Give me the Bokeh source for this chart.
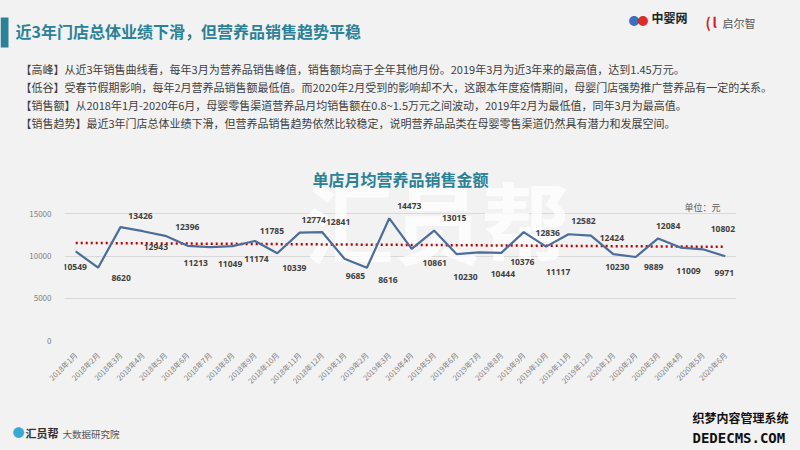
import numpy as np
from bokeh.plotting import figure
from bokeh.layouts import column
from bokeh.models import (Label, FactorRange, Range1d, FixedTicker, ColumnDataSource,
                          GlobalInlineStyleSheet)
from bokeh.embed import file_html
from bokeh.resources import INLINE
from bokeh.core.properties import value

# ---------------- data ----------------
months = ["2018年1月", "2018年2月", "2018年3月", "2018年4月", "2018年5月", "2018年6月",
          "2018年7月", "2018年8月", "2018年9月", "2018年10月", "2018年11月", "2018年12月",
          "2019年1月", "2019年2月", "2019年3月", "2019年4月", "2019年5月", "2019年6月",
          "2019年7月", "2019年8月", "2019年9月", "2019年10月", "2019年11月", "2019年12月",
          "2020年1月", "2020年2月", "2020年3月", "2020年4月", "2020年5月", "2020年6月"]
sales = [10549, 8620, 13426, 12943, 12396, 11213, 11049, 11174, 11785, 10339, 12774, 12841,
         9685, 8616, 14473, 10861, 13015, 10230, 10444, 10376, 12836, 11117, 12582, 12424,
         10230, 9889, 12084, 11009, 10802, 9971]
y_ticks = [0, 5000, 10000, 15000]

title_text = "近3年门店总体业绩下滑，但营养品销售趋势平稳"
chart_title = "单店月均营养品销售金额"
unit_text = "单位：元"
paragraphs = [
    "【高峰】从近3年销售曲线看，每年3月为营养品销售峰值，销售额均高于全年其他月份。2019年3月为近3年来的最高值，达到1.45万元。",
    "【低谷】受春节假期影响，每年2月营养品销售额最低值。而2020年2月受到的影响却不大，这跟本年度疫情期间，母婴门店强势推广营养品有一定的关系。",
    "【销售额】从2018年1月-2020年6月，母婴零售渠道营养品月均销售额在0.8~1.5万元之间波动，2019年2月为最低值，同年3月为最高值。",
    "【销售趋势】最近3年门店总体业绩下滑，但营养品销售趋势依然比较稳定，说明营养品品类在母婴零售渠道仍然具有潜力和发展空间。",
]

# label placement (screen px offsets from point; +y is downward)
label_dx = [-1, 23, 20, 13, 22, 8, 20, 24, 17, 17, 14, 16, 11, 21, 20, 23, 20, 9, 24, 21, 24, 12, 15, 21, 4, 18, 10, 8, 20, -1]
label_dy = [16, 10, -11, 16, -9, 17, 17, 13, -10, 15, -13, -10, 17, 12, -12, 14, -13, 23, 22, 9, 1, 25, -13, 2, 13, 10, -12, 23, -20, 17]

# ---------------- styling constants ----------------
W = 800
HEAD_H, CHART_H, FOOT_H = 150, 260, 40
BG = "#f2f2f2"
TEAL = "#2b8197"
CJK = "Noto Sans CJK SC"


def no_align(f):
    if "frame_align" in f.properties():
        f.frame_align = False
    return f


def plain_fig(h):
    f = figure(width=W, height=h, output_backend="svg", toolbar_location=None,
               x_range=Range1d(0, W), y_range=Range1d(h, 0),
               x_axis_location=None, y_axis_location=None,
               min_border=0)
    f.background_fill_color = BG
    f.border_fill_color = BG
    f.outline_line_color = None
    f.grid.visible = False
    return no_align(f)


def dlab(f, x, y, text, size, color="#404040", bold=False, align="left", font=CJK, alpha=1.0):
    l = Label(x=x, y=y, text=text, text_font=font, text_font_size=f"{size}px",
              text_color=color, text_font_style="bold" if bold else "normal",
              text_align=align, text_baseline="middle", text_alpha=alpha)
    f.add_layout(l)
    return l


# ---------------- header ----------------
head = plain_fig(HEAD_H)
head.stylesheets.append(GlobalInlineStyleSheet(css="body{background:#f2f2f2;}"))
head.quad(left=[0], right=[8], top=[17], bottom=[47], fill_color=TEAL, line_color=None)
dlab(head, 15, 30, title_text, 16, color=TEAL, bold=True)
dlab(head, 628, 19, "●", 11, color="#3b6fc4")
dlab(head, 637, 19, "●", 11, color="#e02b2b")
dlab(head, 651, 17, "中婴网", 12, color="#222222", bold=True)
dlab(head, 705, 21, "(", 14, color="#d01f1f", bold=True)
dlab(head, 712, 21, "l", 14, color="#d01f1f", bold=True)
dlab(head, 722, 22, "启尔智", 11, color="#555555")
for i, t in enumerate(paragraphs):
    dlab(head, 20, 68 + i * 18.3, t, 11, color="#404040")

# ---------------- chart ----------------
FL, FR = 64, 736            # frame left/right (px)
F_TOP, F_BOT = 150, 340     # frame top/bottom in page px
p = figure(width=W, height=CHART_H, output_backend="svg", toolbar_location=None,
           x_range=FactorRange(factors=months), y_range=Range1d(0, 22500),
           min_border_left=FL, min_border_right=W - FR, min_border_top=0,
           min_border_bottom=HEAD_H + CHART_H - F_BOT)
no_align(p)
p.background_fill_color = BG
p.border_fill_color = BG
p.outline_line_color = None
p.xgrid.grid_line_color = None
p.ygrid.grid_line_color = "#d9d9d9"
p.ygrid.grid_line_width = 1
p.yaxis.ticker = FixedTicker(ticks=y_ticks)
for ax in (p.xaxis[0], p.yaxis[0]):
    ax.axis_line_color = None
    ax.major_tick_line_color = None
    ax.minor_tick_line_color = None
    ax.major_label_text_color = "#7f7f7f"
    ax.major_label_text_font = CJK
p.yaxis.major_label_text_font_size = "8px"
p.yaxis.major_label_standoff = 7
p.xaxis.major_label_text_font_size = "7.5px"
p.xaxis.major_label_orientation = np.pi / 4
p.xaxis.major_label_standoff = 7


def clab(x, y_top, text, size, color="#404040", bold=False, align="left", font=CJK,
         alpha=1.0, level="annotation"):
    # screen units relative to the frame's bottom-left corner
    l = Label(x=x - FL, y=F_BOT - y_top, x_units="screen", y_units="screen", text=text,
              text_font=font, text_font_size=f"{size}px", text_color=color,
              text_font_style="bold" if bold else "normal", text_align=align,
              text_baseline="middle", text_alpha=alpha, level=level)
    p.add_layout(l)
    return l


clab(305, 218, "汇员帮", 88, color="#ffffff", bold=True, alpha=0.75, level="underlay")
clab(400, 178, chart_title, 16, color=TEAL, bold=True, align="center")
clab(684, 207, unit_text, 9, color="#595959")

src = ColumnDataSource(dict(x=months, y=sales, t=[str(v) for v in sales],
                            dx=label_dx, dy=label_dy))
idx = np.arange(len(sales))
slope, intercept = np.polyfit(idx, np.array(sales, dtype=float), 1)
trend = [intercept + slope * i for i in (0, len(sales) - 1)]
p.line(x=[months[0], months[-1]], y=trend, line_color="#c00000", line_width=2.5,
       line_dash="2 3")
p.line(x="x", y="y", source=src, line_color="#4a6d9c", line_width=2.2)
p.text(x="x", y="y", text="t", source=src, x_offset="dx", y_offset="dy",
       text_font=value("Open Sans"), text_font_size="8.5px", text_font_style="bold",
       text_color="#404040", text_align="center", text_baseline="middle")

# ---------------- footer ----------------
foot = plain_fig(FOOT_H)
dlab(foot, 12, 22, "●", 12, color="#37a9d6")
dlab(foot, 25, 22, "汇员帮", 11, color="#333333", bold=True)
dlab(foot, 62, 23, "大数据研究院", 9.5, color="#555555")
dlab(foot, 692, 7, "织梦内容管理系统", 12, color="#111111", bold=True)
dlab(foot, 692, 27, "DEDECMS.COM", 14, color="#111111", bold=True, font="DejaVu Sans Mono")

layout = column(head, p, foot, spacing=0)
open("out.html", "w").write(file_html(layout, INLINE))
